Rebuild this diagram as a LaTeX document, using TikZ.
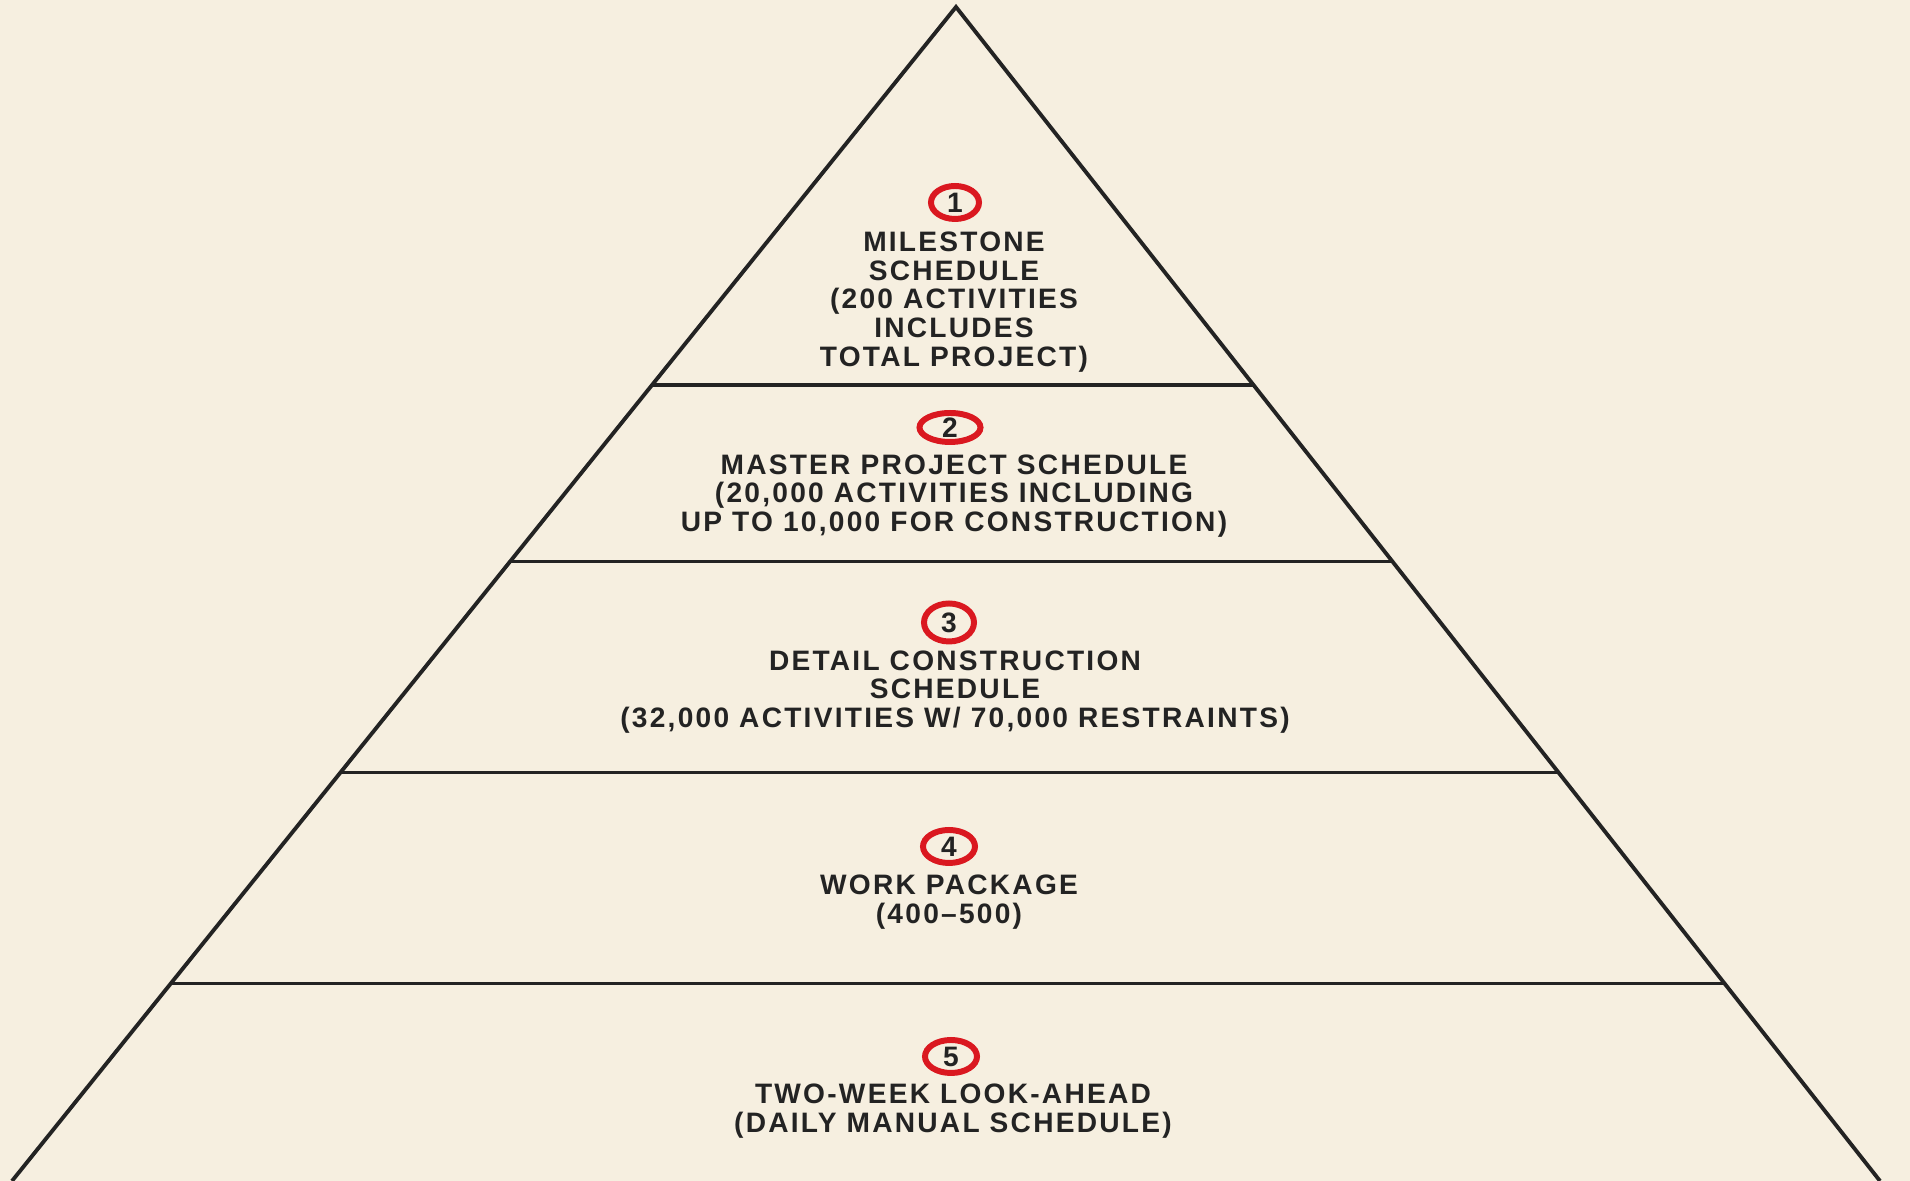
\documentclass[tikz,border=0pt]{standalone}
\usepackage{fontspec}
\newfontfamily\pyrfont[LetterSpace=8]{Liberation Sans}
\usetikzlibrary{calc,shapes.geometric}
\definecolor{paper}{RGB}{246,239,224}
\definecolor{ink}{RGB}{35,35,35}
\definecolor{ringred}{RGB}{218,24,32}
\tikzset{
	level/.style = {ink, line width = 0.9pt},
	ring/.style = {ellipse, draw = ringred, line width = 1.7pt, minimum width = 0.48cm, minimum height = 0.33cm, inner sep = 0pt, text = ink, font = \pyrfont\bfseries\fontsize{8}{8}\selectfont},
	tier/.style = {align = center, text = ink, inner sep = 0pt, font = \pyrfont\bfseries\fontsize{8}{8.15}\selectfont}
}
\begin{document}
\begin{tikzpicture}
				%	page
				\fill[paper] (0, 0) rectangle (19.10, 11.81);
				\useasboundingbox (0, 0) rectangle (19.10, 11.81);
				
				%	pyramid
				\coordinate (apex) at (9.56, 11.74);
				\coordinate (bl) at (0.12, 0);
				\coordinate (br) at (18.80, 0);
				\draw[level, line width = 1.1pt, line join = miter] (bl) -- (apex) -- (br);
				
				%	levels
				\foreach \t [count = \i] in {0.322, 0.472, 0.652, 0.832}
					\draw[level] ($(apex)!\t!(bl)$) coordinate (l\i) -- ($(apex)!\t!(br)$) coordinate (r\i);
				
				%	tiers
				\node[ring] (n1) at (9.55, 9.785) {1};
				\node[tier] (t1) at (9.54, 8.79) {MILESTONE\\SCHEDULE\\(200 ACTIVITIES\\INCLUDES\\TOTAL PROJECT)};
				
				\node[ring, minimum width = 0.61cm, minimum height = 0.29cm] (n2) at (9.50, 7.535) {2};
				\node[tier] (t2) at (9.54, 6.85) {MASTER PROJECT SCHEDULE\\(20,000 ACTIVITIES INCLUDING\\UP TO 10,000 FOR CONSTRUCTION)};
				
				\node[ring, minimum width = 0.50cm, minimum height = 0.38cm] (n3) at (9.49, 5.585) {3};
				\node[tier] (t3) at (9.55, 4.89) {DETAIL CONSTRUCTION\\SCHEDULE\\(32,000 ACTIVITIES W/ 70,000 RESTRAINTS)};
				
				\node[ring, minimum width = 0.52cm, minimum height = 0.33cm] (n4) at (9.49, 3.345) {4};
				\node[tier] (t4) at (9.49, 2.79) {WORK PACKAGE\\(400–500)};
				
				\node[ring, minimum width = 0.52cm, minimum height = 0.33cm] (n5) at (9.51, 1.245) {5};
				\node[tier] (t5) at (9.53, 0.70) {TWO-WEEK LOOK-AHEAD\\(DAILY MANUAL SCHEDULE)};
\end{tikzpicture}
\end{document}
